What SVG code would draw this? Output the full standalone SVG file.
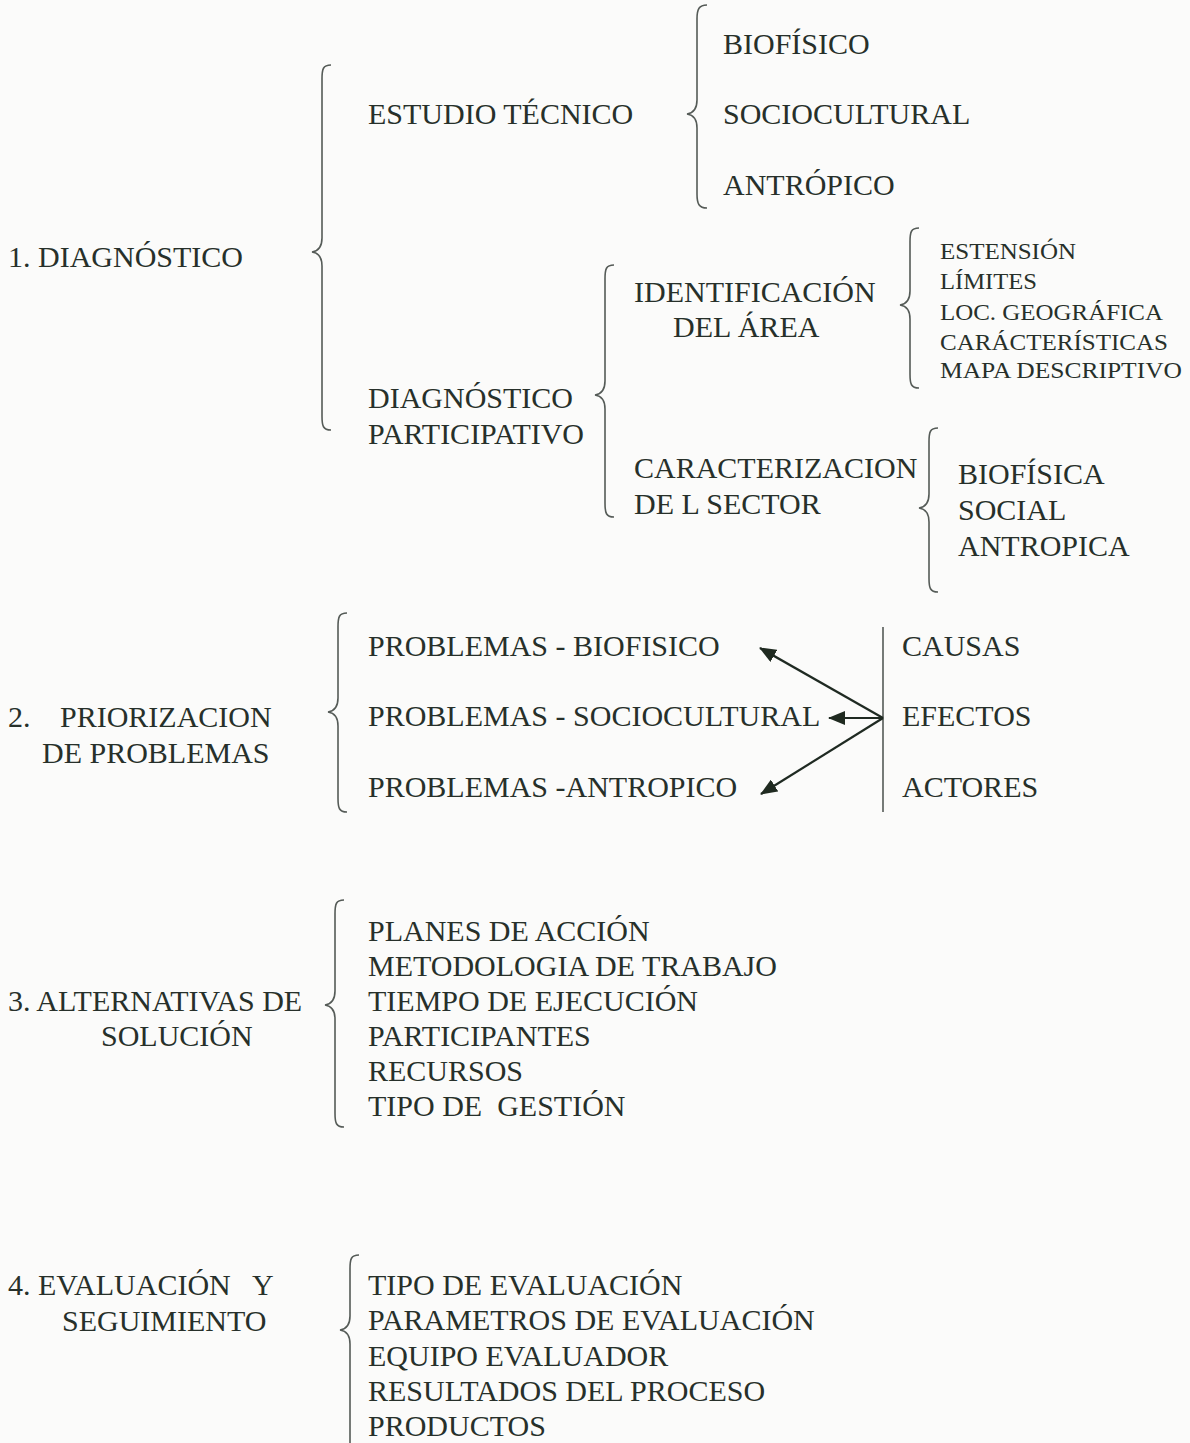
<svg xmlns="http://www.w3.org/2000/svg" width="1190" height="1443" viewBox="0 0 1190 1443">
<style>
text{font-family:"Liberation Serif","Times New Roman",serif;font-size:30px;fill:#27302a}
text.s{font-size:24px}
.br{fill:none;stroke:#555b57;stroke-width:1.6}
.ln{fill:none;stroke:#1f2a22;stroke-width:2.2}
.vl{fill:none;stroke:#555b57;stroke-width:1.6}
</style>
<defs>
<marker id="ah" viewBox="0 0 17 14" refX="16" refY="7" markerWidth="17" markerHeight="14" markerUnits="userSpaceOnUse" orient="auto">
<path d="M0,0 L17,7 L0,14 z" fill="#1f2a20"/>
</marker>
</defs>
<rect width="1190" height="1443" fill="#fbfbfa"/>

<g id="braces">
<path class="br" d="M707,5 C699,5 697,9 697,19 L697,100 C697,108 694,113 687,114 C694,115 697,120 697,128 L697,194 C697,204 699,208 707,208"/>
<path class="br" d="M331,65 C323,65 322,69 322,79 L322,238 C322,246 319,251 312,252 C319,253 322,258 322,266 L322,416 C322,426 323,430 331,430"/>
<path class="br" d="M614,265 C606,265 605,269 605,279 L605,381 C605,389 602,394 595,395 C602,396 605,401 605,409 L605,503 C605,513 606,517 614,517"/>
<path class="br" d="M919,228 C911,228 910,232 910,242 L910,291 C910,299 907,304 900,305 C907,306 910,311 910,319 L910,374 C910,384 911,388 919,388"/>
<path class="br" d="M938,428 C930,428 929,432 929,442 L929,494 C929,502 926,507 919,508 C926,509 929,514 929,522 L929,578 C929,588 930,592 938,592"/>
<path class="br" d="M347,613 C339,613 338,617 338,627 L338,698 C338,706 335,711 328,712 C335,713 338,718 338,726 L338,798 C338,808 339,812 347,812"/>
<path class="br" d="M344,900 C336,900 335,904 335,914 L335,991 C335,999 332,1004 325,1005 C332,1006 335,1011 335,1019 L335,1113 C335,1123 336,1127 344,1127"/>
<path class="br" d="M359,1255 C351,1255 350,1259 350,1269 L350,1316 C350,1324 347,1329 340,1330 C347,1331 350,1336 350,1344 L350,1460"/>
</g>

<g id="n-diagnostico"><text x="8" y="267">1. DIAGNÓSTICO</text></g>
<g id="n-estudio"><text x="368" y="124">ESTUDIO TÉCNICO</text></g>
<g id="n-biofisico"><text x="723" y="54">BIOFÍSICO</text></g>
<g id="n-sociocultural"><text x="723" y="124">SOCIOCULTURAL</text></g>
<g id="n-antropico"><text x="723" y="195">ANTRÓPICO</text></g>
<g id="n-diagpart"><text x="368" y="408">DIAGNÓSTICO</text><text x="368" y="444">PARTICIPATIVO</text></g>
<g id="n-ident"><text x="634" y="302">IDENTIFICACIÓN</text><text x="673" y="337">DEL ÁREA</text></g>
<g id="n-identlist">
<text class="s" x="940" y="259" textLength="136" lengthAdjust="spacingAndGlyphs">ESTENSIÓN</text>
<text class="s" x="940" y="289" textLength="97" lengthAdjust="spacingAndGlyphs">LÍMITES</text>
<text class="s" x="940" y="320" textLength="223" lengthAdjust="spacingAndGlyphs">LOC. GEOGRÁFICA</text>
<text class="s" x="940" y="350" textLength="228" lengthAdjust="spacingAndGlyphs">CARÁCTERÍSTICAS</text>
<text class="s" x="940" y="378" textLength="242" lengthAdjust="spacingAndGlyphs">MAPA DESCRIPTIVO</text>
</g>
<g id="n-caract"><text x="634" y="478">CARACTERIZACION</text><text x="634" y="514">DE L SECTOR</text></g>
<g id="n-caractlist">
<text x="958" y="484">BIOFÍSICA</text>
<text x="958" y="520">SOCIAL</text>
<text x="958" y="556">ANTROPICA</text>
</g>

<g id="n-prior"><text x="8" y="727">2.<tspan x="60">PRIORIZACION</tspan></text><text x="42" y="763">DE PROBLEMAS</text></g>
<g id="n-prob1"><text x="368" y="656">PROBLEMAS - BIOFISICO</text></g>
<g id="n-prob2"><text x="368" y="726">PROBLEMAS - SOCIOCULTURAL</text></g>
<g id="n-prob3"><text x="368" y="797">PROBLEMAS -ANTROPICO</text></g>
<g id="n-cea">
<text x="902" y="656">CAUSAS</text>
<text x="902" y="726">EFECTOS</text>
<text x="902" y="797">ACTORES</text>
</g>

<g id="connectors">
<line class="vl" x1="883" y1="627" x2="883" y2="812"/>
<line class="ln" x1="883" y1="718" x2="760" y2="648" marker-end="url(#ah)"/>
<line class="ln" x1="883" y1="718" x2="829" y2="718" marker-end="url(#ah)"/>
<line class="ln" x1="883" y1="718" x2="761" y2="794" marker-end="url(#ah)"/>
</g>

<g id="n-alt"><text x="8" y="1011">3. ALTERNATIVAS DE</text><text x="101" y="1046">SOLUCIÓN</text></g>
<g id="n-altlist">
<text x="368" y="941">PLANES DE ACCIÓN</text>
<text x="368" y="976">METODOLOGIA DE TRABAJO</text>
<text x="368" y="1011">TIEMPO DE EJECUCIÓN</text>
<text x="368" y="1046">PARTICIPANTES</text>
<text x="368" y="1081">RECURSOS</text>
<text x="368" y="1116" xml:space="preserve">TIPO DE  GESTIÓN</text>
</g>

<g id="n-eval"><text x="8" y="1295">4. EVALUACIÓN<tspan x="252">Y</tspan></text><text x="62" y="1331">SEGUIMIENTO</text></g>
<g id="n-evallist">
<text x="368" y="1295">TIPO DE EVALUACIÓN</text>
<text x="368" y="1330">PARAMETROS DE EVALUACIÓN</text>
<text x="368" y="1366">EQUIPO EVALUADOR</text>
<text x="368" y="1401">RESULTADOS DEL PROCESO</text>
<text x="368" y="1436">PRODUCTOS</text>
</g>
</svg>
